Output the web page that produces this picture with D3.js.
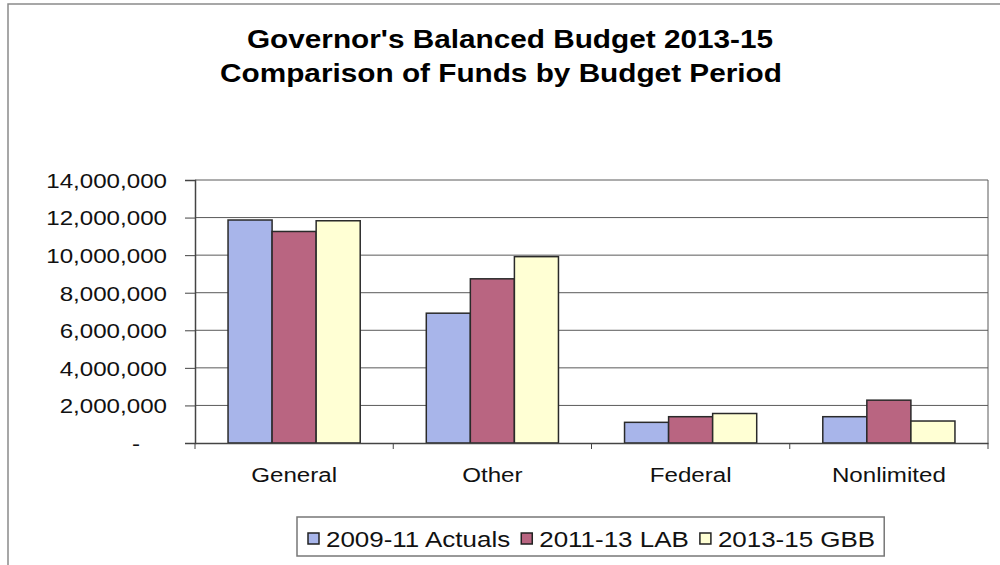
<!DOCTYPE html>
<html>
<head>
<meta charset="utf-8">
<script src="https://cdn.jsdelivr.net/npm/d3@7"></script>
<style>
  html, body { margin: 0; padding: 0; background: #fff; }
  svg { display: block; }
  text { font-family: "Liberation Sans", Arial, sans-serif; fill: #111; }
</style>
</head>
<body>
<svg id="chart" width="1000" height="565"></svg>
<script>
// Fund categories and the three budget periods
const categories = ["General", "Other", "Federal", "Nonlimited"];
const seriesNames = ["2009-11 Actuals", "2011-13 LAB", "2013-15 GBB"];
const actuals0911 = [11870000, 6910000, 1100000, 1400000];
const lab1113     = [11260000, 8740000, 1400000, 2280000];
const gbb1315     = [11830000, 9920000, 1570000, 1170000];
const yTicks = [0, 2000000, 4000000, 6000000, 8000000, 10000000, 12000000, 14000000];
const titleLines = ["Governor's Balanced Budget 2013-15", "Comparison of Funds by Budget Period"];

const seriesValues = [actuals0911, lab1113, gbb1315];
const colors = ["#A8B5EA", "#B96581", "#FFFFD4"];

const svg = d3.select("#chart");
const plot = { left: 195, right: 988, top: 180, bottom: 443 };

// Outer chart frame (top and left edges visible)
svg.append("path")
  .attr("d", "M8,565 L8,4 L1000,4")
  .attr("fill", "none").attr("stroke", "#8a8a8a").attr("stroke-width", 1.5);

// Title
const titleX = [510, 501];
const titleY = [48, 82];
titleLines.forEach((t, i) => {
  svg.append("text")
    .attr("transform", `translate(${titleX[i]},${titleY[i]}) scale(1.19,1)`)
    .attr("text-anchor", "middle")
    .attr("font-size", 25).attr("font-weight", "bold")
    .style("fill", "#000")
    .text(t);
});

// Scales
const x0 = d3.scaleBand().domain(categories).range([plot.left, plot.right])
  .paddingInner(1 / 3).paddingOuter(1 / 6);
const x1 = d3.scaleBand().domain(seriesNames).range([0, x0.bandwidth()]);
const y = d3.scaleLinear().domain([0, 14000000]).range([plot.bottom, plot.top]);

// Gridlines
svg.append("g").selectAll("line").data(yTicks.slice(1)).join("line")
  .attr("x1", plot.left).attr("x2", plot.right)
  .attr("y1", d => y(d)).attr("y2", d => y(d))
  .attr("stroke", "#5a5a5a").attr("stroke-width", 1);

// Right edge of plot area
svg.append("line")
  .attr("x1", plot.right).attr("x2", plot.right)
  .attr("y1", plot.top).attr("y2", plot.bottom)
  .attr("stroke", "#5a5a5a").attr("stroke-width", 1);

// Bars
const groups = svg.append("g").selectAll("g").data(categories).join("g")
  .attr("transform", d => `translate(${x0(d)},0)`);
groups.selectAll("rect")
  .data((c, ci) => seriesNames.map((s, si) => ({ s, si, v: seriesValues[si][ci] })))
  .join("rect")
  .attr("x", d => x1(d.s))
  .attr("width", x1.bandwidth())
  .attr("y", d => y(d.v))
  .attr("height", d => y(0) - y(d.v))
  .attr("fill", d => colors[d.si])
  .attr("stroke", "#2a2a2a").attr("stroke-width", 1.5);

// Y axis
const fmt = d3.format(",");
const yAxis = svg.append("g")
  .attr("transform", `translate(${plot.left},0)`)
  .call(d3.axisLeft(y).tickValues(yTicks).tickSize(10).tickPadding(18)
    .tickFormat(d => d === 0 ? "-" : fmt(d)));
yAxis.select(".domain").attr("stroke", "#444").attr("stroke-width", 1.5);
yAxis.selectAll(".tick line").attr("stroke", "#444");
yAxis.selectAll(".tick text")
  .attr("x", null).attr("dy", "0.35em")
  .attr("font-size", 21)
  .attr("font-family", "Liberation Sans, Arial, sans-serif")
  .style("fill", "#111")
  .attr("transform", d => `translate(${d === 0 ? -55 : -28},0) scale(1.15,1)`);

// X axis: baseline, boundary ticks and category labels
const xAxis = svg.append("g")
  .attr("transform", `translate(0,${plot.bottom})`)
  .call(d3.axisBottom(x0).tickSize(0).tickPadding(0));
xAxis.select(".domain").attr("stroke", "#444").attr("stroke-width", 1.5);
xAxis.selectAll(".tick text")
  .attr("y", null).attr("dy", null)
  .attr("font-size", 21)
  .attr("font-family", "Liberation Sans, Arial, sans-serif")
  .style("fill", "#111")
  .attr("transform", "translate(0,39) scale(1.15,1)");
const boundaries = categories.map(c => x0(c) - x0.step() * x0.paddingInner() / 2)
  .concat([plot.right]);
xAxis.append("g").selectAll("line").data(boundaries).join("line")
  .attr("x1", d => d).attr("x2", d => d)
  .attr("y1", 0).attr("y2", 6)
  .attr("stroke", "#444");

// Legend
const legend = svg.append("g");
const legendItems = legend.selectAll("g").data(seriesNames).join("g");
legendItems.append("rect")
  .attr("width", 11).attr("height", 11)
  .attr("y", 533)
  .attr("fill", (d, i) => colors[i])
  .attr("stroke", "#222").attr("stroke-width", 1.5);
legendItems.append("text")
  .attr("font-size", 22)
  .text(d => d);
let cursor = 308;
legendItems.each(function () {
  const g = d3.select(this);
  const w = g.select("text").node().getComputedTextLength() * 1.18;
  g.select("rect").attr("x", cursor);
  g.select("text").attr("transform", `translate(${cursor + 18},547) scale(1.18,1)`);
  cursor += 18 + w + 11;
});
legend.insert("rect", ":first-child")
  .attr("x", 297).attr("y", 517)
  .attr("width", cursor - 11 + 9 - 297).attr("height", 39)
  .attr("fill", "#fff").attr("stroke", "#777").attr("stroke-width", 1.5);
</script>
</body>
</html>
